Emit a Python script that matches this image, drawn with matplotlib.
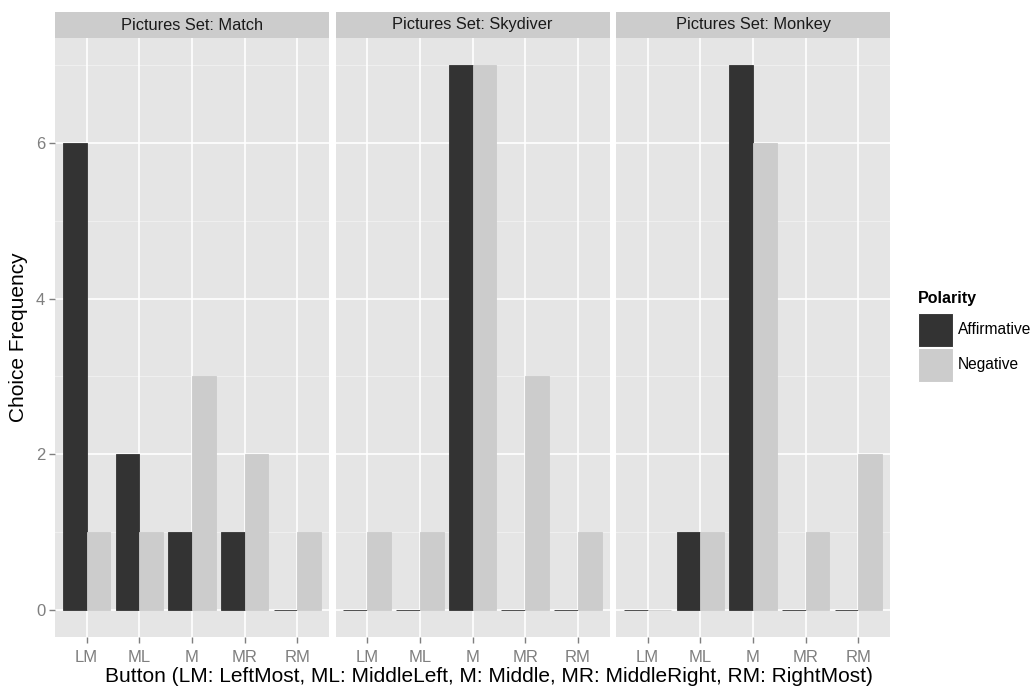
import numpy as np
import matplotlib
matplotlib.use("Agg")
import matplotlib.pyplot as plt
from matplotlib.patches import Rectangle

plt.rcParams['font.family'] = ['Liberation Sans', 'DejaVu Sans']

buttons = ["LM", "ML", "M", "MR", "RM"]
panels = ["Pictures Set: Match", "Pictures Set: Skydiver", "Pictures Set: Monkey"]
affirmative = [
    [6, 2, 1, 1, 0],
    [0, 0, 7, 0, 0],
    [0, 1, 7, 0, 0],
]
negative = [
    [1, 1, 3, 2, 1],
    [1, 1, 7, 3, 1],
    [0, 1, 6, 1, 2],
]
polarity = ["Affirmative", "Negative"]

dark = "#333333"
light = "#CCCCCC"
W, H = 1032, 688

fig = plt.figure(figsize=(W / 100, H / 100), dpi=100)

lefts = [55, 335.5, 616]
pw = 274
top, bottom = 38, 637
x = np.arange(1, 6)

for i, left in enumerate(lefts):
    ax = fig.add_axes([left / W, 1 - bottom / H, pw / W, (bottom - top) / H])
    ax.set_facecolor("#E5E5E5")
    ax.set_xlim(0.4, 5.6)
    ax.set_ylim(-0.35, 7.35)
    for yv in [1, 3, 5, 7]:
        ax.axhline(yv, color="#F2F2F2", lw=0.6, zorder=0)
    for yv in [0, 2, 4, 6]:
        ax.axhline(yv, color="white", lw=1.2, zorder=0)
    for xv in x:
        ax.axvline(xv, color="white", lw=1.2, zorder=0)
    for vals, off, col in [(affirmative[i], -0.225, dark), (negative[i], 0.225, light)]:
        ax.bar(x + off, vals, width=0.45, color=col, edgecolor=col, lw=0.6, zorder=2)
    for s in ax.spines.values():
        s.set_visible(False)
    ax.set_xticks(x)
    ax.set_xticklabels(buttons, fontsize=12, color="#7F7F7F")
    ax.tick_params(axis="both", length=4, width=1, color="#7F7F7F", pad=3)
    ax.tick_params(axis="x", pad=5)
    if i == 0:
        ax.set_yticks([0, 2, 4, 6])
        ax.set_yticklabels(["0", "2", "4", "6"], fontsize=12, color="#7F7F7F")
    else:
        ax.set_yticks([])
    # strip
    fig.patches.append(Rectangle((left / W, 1 - top / H), pw / W, 26 / H,
                                 transform=fig.transFigure, facecolor="#CCCCCC",
                                 edgecolor="none"))
    fig.text((left + pw / 2) / W, 1 - 25 / H, panels[i], ha="center", va="center",
             fontsize=11.8, color="#1A1A1A")

fig.text(489 / W, 1 - 676 / H,
         "Button (LM: LeftMost, ML: MiddleLeft, M: Middle, MR: MiddleRight, RM: RightMost)",
         ha="center", va="center", fontsize=15)
fig.text(19 / W, 1 - 337 / H, "Choice Frequency", rotation=90, ha="center",
         va="center", fontsize=15)

# legend
fig.text(918 / W, 1 - 298 / H, "Polarity", fontsize=11.5, fontweight="bold",
         ha="left", va="center")
for k, (lab, col) in enumerate(zip(polarity, [dark, light])):
    y0 = 313 + k * 34.5
    fig.patches.append(Rectangle((918 / W, 1 - (y0 + 34.5) / H), 34.5 / W, 34.5 / H,
                                 transform=fig.transFigure, facecolor=col,
                                 edgecolor="white", lw=0.8))
    fig.text(958 / W, 1 - (y0 + 17) / H, lab, fontsize=11.2, ha="left", va="center")

fig.savefig("out.png", dpi=100)
